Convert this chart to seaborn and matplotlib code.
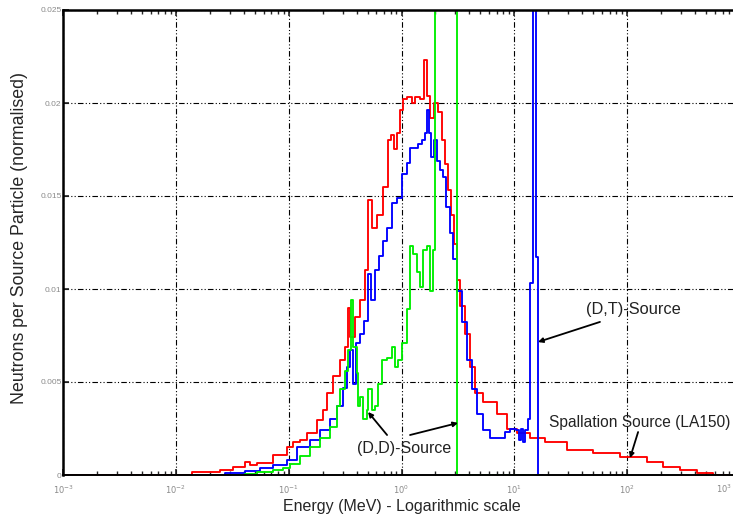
import numpy as np
import pandas as pd
import matplotlib
matplotlib.use("Agg")
import matplotlib.pyplot as plt
import matplotlib.ticker as mticker
import seaborn as sns

# ---- data (log10 of energy in MeV, step starts) ----
spall_logE = [-3.0, -1.857, -1.609, -1.493, -1.387, -1.343, -1.281, -1.139, -1.015, -0.962,
              -0.900, -0.837, -0.749, -0.696, -0.660, -0.607, -0.545, -0.501, -0.474, -0.456,
              -0.412, -0.368, -0.323, -0.297, -0.261, -0.217, -0.164, -0.120, -0.093, -0.066,
              -0.040, -0.013, 0.013, 0.049, 0.093, 0.120, 0.164, 0.200, 0.226, 0.253,
              0.288, 0.324, 0.359, 0.386, 0.412, 0.439, 0.465, 0.492, 0.519, 0.563,
              0.607, 0.652, 0.722, 0.846, 0.935, 1.024, 1.139, 1.272, 1.467, 1.697,
              1.937, 2.176, 2.318, 2.468, 2.619, 2.761, 2.90]
spall_flux = [0.0, 0.00016, 0.00027, 0.00043, 0.0007, 0.00054, 0.00065, 0.00108, 0.0015, 0.00177,
              0.00188, 0.00226, 0.00296, 0.0035, 0.0044, 0.0053, 0.0062, 0.0069, 0.0090, 0.0074,
              0.0085, 0.0094, 0.0110, 0.0148, 0.0133, 0.0140, 0.0155, 0.0180, 0.0183, 0.0175,
              0.0184, 0.0196, 0.0202, 0.0203, 0.0200, 0.0203, 0.0202, 0.0223, 0.0204, 0.0192,
              0.0200, 0.0195, 0.0180, 0.0167, 0.0153, 0.0140, 0.0124, 0.0105, 0.0091, 0.0076,
              0.0058, 0.0044, 0.0039, 0.0033, 0.0025, 0.00226, 0.0020, 0.00177, 0.00134, 0.00118,
              0.00097, 0.0007, 0.00043, 0.00027, 0.00011, 0.0, 0.0]

dt_logE = [-1.830, -1.564, -1.387, -1.254, -1.139, -1.015, -0.926, -0.811, -0.722, -0.634,
           -0.572, -0.518, -0.483, -0.456, -0.430, -0.403, -0.368, -0.332, -0.297, -0.270,
           -0.235, -0.199, -0.164, -0.128, -0.084, -0.040, 0.004, 0.049, 0.075, 0.146,
           0.182, 0.208, 0.226, 0.244, 0.262, 0.288, 0.315, 0.341, 0.368, 0.394,
           0.430, 0.457, 0.492, 0.536, 0.581, 0.625, 0.669, 0.722, 0.784, 0.873,
           0.917, 0.962, 1.015, 1.041, 1.059, 1.077, 1.095, 1.121, 1.139, 1.166,
           1.192, 1.210, 1.25]
dt_flux = [0.0, 0.0001, 0.0002, 0.00038, 0.00054, 0.0008, 0.0015, 0.0019, 0.0024, 0.0030,
           0.0037, 0.0047, 0.0058, 0.0067, 0.0049, 0.0071, 0.0076, 0.0083, 0.0108, 0.0094,
           0.0110, 0.0118, 0.0126, 0.0133, 0.0146, 0.0149, 0.0162, 0.0168, 0.0176, 0.0178,
           0.0180, 0.0184, 0.0196, 0.0184, 0.0171, 0.0180, 0.0169, 0.0164, 0.0160, 0.0144,
           0.0130, 0.0116, 0.0099, 0.0082, 0.0062, 0.0046, 0.0033, 0.0024, 0.0020, 0.0020,
           0.0023, 0.0025, 0.0024, 0.0019, 0.0025, 0.0018, 0.0024, 0.0030, 0.0103, 0.0500,
           0.0117, 0.0, 0.0]

dd_logE = [-1.546, -1.387, -1.281, -1.139, -1.050, -0.988, -0.900, -0.811, -0.722, -0.634,
           -0.572, -0.545, -0.501, -0.474, -0.448, -0.430, -0.394, -0.386, -0.368, -0.341,
           -0.306, -0.297, -0.261, -0.235, -0.208, -0.173, -0.128, -0.084, -0.058, -0.031,
           0.004, 0.049, 0.075, 0.102, 0.137, 0.164, 0.191, 0.226, 0.253, 0.279,
           0.297, 0.492, 1.21]
dd_flux = [0.0, 0.00005, 0.00016, 0.00027, 0.00038, 0.0006, 0.0010, 0.0015, 0.0020, 0.0026,
           0.0037, 0.0046, 0.0056, 0.0067, 0.0094, 0.0069, 0.0055, 0.0037, 0.0042, 0.0030,
           0.0035, 0.0046, 0.0035, 0.0037, 0.0049, 0.0062, 0.0063, 0.0069, 0.0058, 0.0062,
           0.0071, 0.0089, 0.0123, 0.0119, 0.0109, 0.0101, 0.0121, 0.0123, 0.0099, 0.0121,
           0.1000, 0.0, 0.0]

series_names = ["Spallation Source (LA150)", "(D,T)-Source", "(D,D)-Source"]
series_colors = ["#ff0000", "#0000ff", "#00ee00"]
x_tick_values = [1e-3, 1e-2, 1e-1, 1e0, 1e1, 1e2, 1e3]
x_tick_labels = [r"$10^{-3}$", r"$10^{-2}$", r"$10^{-1}$", r"$10^{0}$", r"$10^{1}$",
                 r"$10^{2}$", r"$10^{3}$"]
y_tick_values = [0, 0.005, 0.01, 0.015, 0.02, 0.025]
y_tick_labels = ["0", "0.005", "0.01", "0.015", "0.02", "0.025"]

frames = []
for name, le, fl in zip(series_names, [spall_logE, dt_logE, dd_logE],
                        [spall_flux, dt_flux, dd_flux]):
    frames.append(pd.DataFrame({"energy": 10 ** np.array(le), "flux": fl,
                                "source": name, "order": np.arange(len(le))}))
df = pd.concat(frames, ignore_index=True)

sns.set_style("white")
plt.rcParams["font.family"] = ["Liberation Sans", "DejaVu Sans"]

fig = plt.figure(figsize=(7.33, 5.17), dpi=100)
ax = fig.add_axes([63 / 733, 42 / 517, 677 / 733, 465 / 517])

sns.lineplot(data=df, x="energy", y="flux", hue="source", hue_order=series_names,
             palette=dict(zip(series_names, series_colors)), sort=False,
             estimator=None, drawstyle="steps-post", linewidth=1.35, legend=False, ax=ax)

ax.set_xscale("log")
ax.set_xlim(1e-3, 1e3)
ax.set_ylim(0, 0.025)
ax.set_xticks(x_tick_values)
# last decade label sits beyond the figure edge; draw it just inside instead
ax.set_xticklabels(x_tick_labels[:-1] + [""])
ax.set_yticks(y_tick_values)
ax.set_yticklabels(y_tick_labels)
ax.xaxis.set_minor_locator(mticker.LogLocator(base=10, subs=np.arange(2, 10), numticks=20))
ax.xaxis.set_minor_formatter(mticker.NullFormatter())

ax.grid(True, which="major", color="black", linestyle=(0, (5, 2, 1, 2, 1, 2)), linewidth=0.8)
ax.tick_params(axis="both", which="major", direction="in", length=4, width=1.2,
               labelsize=6, labelcolor="#8a8a8a", top=True, bottom=True, left=True, right=False)
ax.tick_params(axis="x", which="minor", direction="in", length=3, width=1.0,
               top=True, bottom=True)
ax.tick_params(axis="x", which="major", pad=6)
ax.tick_params(axis="y", which="major", pad=1)
fig.text(732 / 733, 1 - 489 / 517, x_tick_labels[-1], fontsize=6, color="#8a8a8a",
         ha="right", va="center")

for side in ["left", "top", "bottom"]:
    ax.spines[side].set_visible(True)
    ax.spines[side].set_color("black")
ax.spines["left"].set_linewidth(1.8)
ax.spines["top"].set_linewidth(1.8)
ax.spines["bottom"].set_linewidth(1.4)
ax.spines["right"].set_visible(False)

ax.set_xlabel("Energy (MeV) - Logarithmic scale", fontsize=11.5, labelpad=2)
ax.set_ylabel("Neutrons per Source Particle (normalised)", fontsize=12.8)
ax.yaxis.set_label_coords(-0.052, 0.51)

arrow = dict(arrowstyle="-|>", color="black", lw=1.3, mutation_scale=7, shrinkA=0, shrinkB=0)
ax.annotate("", xy=(16.2, 0.00715), xytext=(57.4, 0.00823), arrowprops=arrow)
ax.text(43, 0.0089, "(D,T)-Source", fontsize=11.8, ha="left", va="center", color="#222222")

ax.annotate("", xy=(0.505, 0.00339), xytext=(0.745, 0.00215), arrowprops=arrow)
ax.annotate("", xy=(3.17, 0.0028), xytext=(1.19, 0.00215), arrowprops=arrow)
ax.text(0.404, 0.00145, "(D,D)-Source", fontsize=11.5, ha="left", va="center", color="#222222")

ax.annotate("", xy=(106, 0.00091), xytext=(125, 0.00231), arrowprops=arrow)
ax.text(20.2, 0.0028, "Spallation Source (LA150)", fontsize=11.2, ha="left", va="center",
        color="#222222")

fig.savefig("out.png", dpi=100)
